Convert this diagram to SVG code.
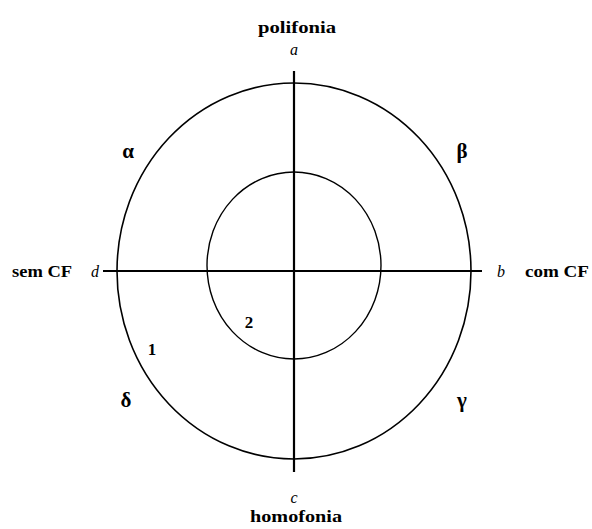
<svg xmlns="http://www.w3.org/2000/svg" width="592" height="529" viewBox="0 0 592 529">
<style>
.ln{stroke:#000;fill:none}
.b{font-family:"Liberation Serif",serif;font-weight:bold;font-size:16px;fill:#000}
.i{font-family:"Liberation Serif",serif;font-style:italic;font-size:16px;fill:#000}
.g{font-family:"Liberation Serif",serif;font-weight:bold;font-size:21px;fill:#000}
.n{font-family:"Liberation Serif",serif;font-weight:bold;font-size:17px;fill:#000}
</style>
<rect width="592" height="529" fill="#fff"/>
<g id="circles">
<ellipse id="outer" class="ln" cx="294" cy="271" rx="177" ry="188" stroke-width="1.6"/>
<ellipse id="inner" class="ln" cx="294" cy="265.5" rx="87" ry="93.5" stroke-width="1.4"/>
</g>
<g id="connectors">
<line class="ln" x1="294" y1="71" x2="294" y2="472" stroke-width="2.2"/>
<line class="ln" x1="103" y1="271" x2="482" y2="271" stroke-width="2.2"/>
</g>
<g id="labels">
<text class="b" x="258" y="33" textLength="78" lengthAdjust="spacingAndGlyphs">polifonia</text>
<text class="i" x="294" y="55" text-anchor="middle">a</text>
<text class="b" x="250" y="522" textLength="92" lengthAdjust="spacingAndGlyphs">homofonia</text>
<text class="i" x="294" y="503" text-anchor="middle">c</text>
<text class="b" x="12" y="277" textLength="60" lengthAdjust="spacingAndGlyphs">sem CF</text>
<text class="i" x="95" y="277" text-anchor="middle">d</text>
<text class="i" x="501" y="277" text-anchor="middle">b</text>
<text class="b" x="525" y="277" textLength="64" lengthAdjust="spacingAndGlyphs">com CF</text>
<text class="g" x="128" y="158" text-anchor="middle">α</text>
<text class="g" x="462" y="158" text-anchor="middle">β</text>
<text class="g" x="126" y="407" text-anchor="middle">δ</text>
<text class="g" x="462" y="407" text-anchor="middle">γ</text>
<text class="n" x="152" y="355" text-anchor="middle">1</text>
<text class="n" x="249" y="328" text-anchor="middle">2</text>
</g>
</svg>
